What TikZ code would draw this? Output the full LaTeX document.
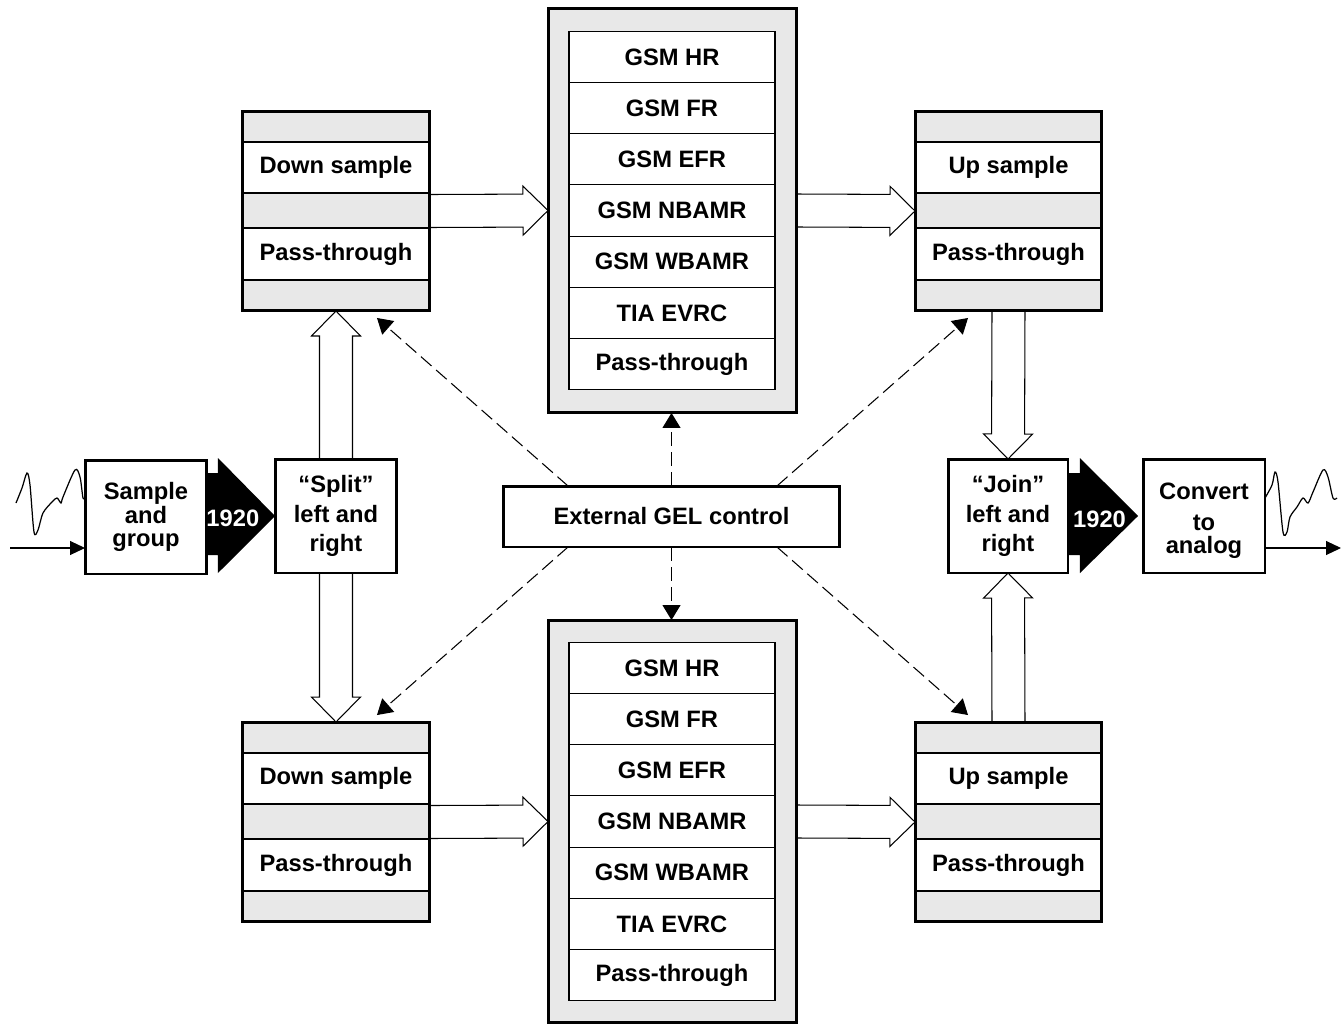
\documentclass[tikz,border=0pt]{standalone}
\usepackage{fontspec}
\setmainfont{Liberation Sans}
\usepackage{tikz}
\usetikzlibrary{arrows.meta, positioning, calc}
\definecolor{boxgray}{RGB}{232,232,232}
\tikzset{
  ctrl/.style={rectangle, draw, fill=white, line width=1.7pt, align=center,
    inner sep=0pt, outer sep=0pt, minimum width=2.44cm, minimum height=2.28cm,
    font=\fontsize{13.5}{13.4}\selectfont\bfseries},
  stack/.style={rectangle, draw, fill=boxgray, line width=1.7pt,
    inner sep=0pt, outer sep=0pt},
  row/.style={rectangle, draw, fill=white, line width=0.6pt, inner sep=0pt,
    outer sep=0pt, minimum height=1.02cm,
    font=\fontsize{13.5}{13.4}\selectfont\bfseries},
  outline/.style={draw, line width=1.7pt},
  fat/.style={line width=0.6pt, line join=miter},
  ctrlarrow/.style={line width=0.6pt, dash pattern=on 8pt off 3.5pt,
    -{Triangle[length=0.3cm, width=0.36cm]}},
  sigarrow/.style={line width=0.6pt, -{Triangle[length=0.3cm, width=0.28cm]}},
  wave/.style={line width=0.7pt}
}
\begin{document}
\begin{tikzpicture}[x=0.02cm, y=-0.02cm]
  \useasboundingbox (0,0) rectangle (1343,1025);

  % Input / output stages
  \node[ctrl] (sg) at (146,517) {Sample\\and\\group};
  \node[ctrl] (split) at (336,516) {“Split”\\[3.6pt]left and\\[3.6pt]right};
  \node[ctrl, minimum width=2.4cm] (join) at (1008,516) {“Join”\\[3.6pt]left and\\[3.6pt]right};
  \node[ctrl] (conv) at (1204,516) {};
  \node[align=center, inner sep=0pt, font=\fontsize{13.5}{13.4}\selectfont\bfseries] (convtxt)
    at ($(conv.center)+(0,5)$) {Convert\\[4pt]to\\analog};
  \node[ctrl, minimum width=6.74cm, minimum height=1.22cm] (gel) at (671.5,516.5) {External GEL control};

  % Resampling blocks
  \foreach \n/\x/\y/\w/\txt in {dsT/336/211/3.76cm/Down sample, dsB/336/822/3.76cm/Down sample,
                               upT/1008.5/211/3.74cm/Up sample, upB/1008.5/822/3.74cm/Up sample} {
    \node[stack, minimum width=\w, minimum height=4cm] (\n) at (\x,\y) {};
    \node[row, minimum width=\w] (\n-a) at (\x,\y-43.5) {\txt};
    \node[row, minimum width=\w, minimum height=1.04cm] (\n-b) at (\x,\y+43) {Pass-through};
    \draw[outline] (\n.south west) rectangle (\n.north east);
  }

  % Codec banks
  \node[stack, minimum width=4.98cm, minimum height=8.1cm] (cdT) at (672.5,210.5) {};
  \node[stack, minimum width=4.98cm, minimum height=8.06cm] (cdB) at (672.5,821.5) {};
  \foreach \n in {cdT, cdB} {
    \foreach \i/\txt in {0/GSM HR, 1/GSM FR, 2/GSM EFR, 3/GSM NBAMR, 4/GSM WBAMR, 5/TIA EVRC, 6/Pass-through}
      \node[row, minimum width=4.12cm, minimum height=1.024cm] (\n-\i) at ($(\n.center)+(-0.5,-153.6+51.2*\i)$) {\txt};
  }

  % Wide data paths
  \foreach \a/\b in {dsT.east/cdT.west, cdT.east/upT.west, dsB.east/cdB.west, cdB.east/upB.west,
                     split.north/dsT.south, split.south/dsB.north, upT.south/join.north, upB.north/join.south} {
    \coordinate (h) at ($(\b)!0.5cm!(\a)$);
    \draw[fat] ($(\a)!0.33cm!90:(\b)$) -- ($(h)!0.33cm!-90:(\a)$) -- ($(h)!0.49cm!-90:(\a)$) -- (\b)
      -- ($(h)!0.49cm!90:(\a)$) -- ($(h)!0.33cm!90:(\a)$) -- ($(\a)!0.33cm!-90:(\b)$);
  }

  % 1920-sample block arrows
  \coordinate (tipL) at (split.west);
  \fill ($(sg.east)+(0,-44)$) -- ($(sg.east)+(11,-44)$) -- ($(sg.east)+(11,-59)$) -- (tipL)
    -- ($(sg.east)+(11,56)$) -- ($(sg.east)+(11,38)$) -- ($(sg.east)+(0,38)$) -- cycle;
  \node[white, font=\fontsize{13.5}{13.4}\selectfont\bfseries] (nL) at ($(sg.east)!0.38!(split.west)+(0,2)$) {1920};
  \coordinate (tipR) at ($(conv.west)+(-5,0)$);
  \fill ($(join.east)+(0,-43)$) -- ($(join.east)+(12,-43)$) -- ($(join.east)+(12,-58)$) -- (tipR)
    -- ($(join.east)+(12,57)$) -- ($(join.east)+(12,39)$) -- ($(join.east)+(0,39)$) -- cycle;
  \node[white, font=\fontsize{13.5}{13.4}\selectfont\bfseries] (nR) at ($(join.east)!0.42!(conv.west)+(0,3)$) {1920};

  % Control paths
  \coordinate (tl) at ($(dsT.south east)+(-53,7)$);
  \coordinate (tr) at ($(upT.south west)+(53,7)$);
  \coordinate (bl) at ($(dsB.north east)+(-53,-7)$);
  \coordinate (br) at ($(upB.north west)+(53,-7)$);
  \draw[ctrlarrow] (gel.north) -- (gel.north |- cdT.south);
  \draw[ctrlarrow] (gel.south) -- (gel.south |- cdB.north);
  \draw[ctrlarrow] ($(gel.north west)+(65,0)$) -- (tl);
  \draw[ctrlarrow] ($(gel.north east)+(-63,0)$) -- (tr);
  \draw[ctrlarrow] ($(gel.south west)+(65,0)$) -- (bl);
  \draw[ctrlarrow] ($(gel.south east)+(-63,0)$) -- (br);

  % Analog signal in and out
  \draw[wave] plot[smooth, tension=0.5] coordinates {(16,503) (22,488) (27,473) (30,485) (34,532)
    (38,530) (43,513) (52,502) (57,498) (61,503) (63,497) (75,470) (80,477) (83,498) (85,498)};
  \coordinate (in) at (10,548);
  \draw[sigarrow] (in) -- (in -| sg.west);
  \draw[wave] plot[smooth, tension=0.5] coordinates {(1265,498) (1272,485) (1275,472) (1278,482)
    (1283,532) (1287,532) (1290,517) (1297,507) (1303,498) (1308,503) (1313,492) (1323,470)
    (1328,477) (1333,498) (1337,498)};
  \coordinate (out) at (1341,548);
  \draw[sigarrow] (conv.east |- out) -- (out);
\end{tikzpicture}
\end{document}
